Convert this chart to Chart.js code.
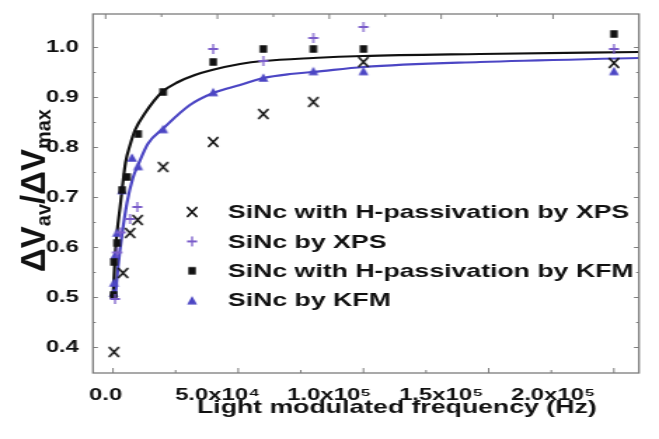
<!DOCTYPE html>
<html>
<head>
<meta charset="utf-8">
<script src="https://cdn.jsdelivr.net/npm/chart.js@4/dist/chart.umd.min.js"></script>
<style>
  html, body { margin: 0; padding: 0; background: #fff; overflow: hidden; }
  #plot { display: block; width: 659px; height: 439px; }
</style>
</head>
<body>
<canvas id="plot" width="470" height="439" style="width:659px;height:439px"></canvas>
<script>
// Frequencies in Hz, normalised amplitude ΔVav/ΔVmax
const freqXpsH  = [400, 4000, 6800, 9850, 20000, 40000, 60000, 80000, 100000, 200000];
const ratioXpsH = [0.391, 0.549, 0.629, 0.655, 0.761, 0.811, 0.867, 0.891, 0.971, 0.969];

const freqXps  = [800, 1600, 3000, 6800, 9700, 40000, 60000, 80000, 100000, 200000];
const ratioXps = [0.497, 0.59, 0.63, 0.657, 0.681, 0.997, 0.973, 1.019, 1.041, 0.997];

const freqKfmH  = [200, 400, 1600, 3600, 5600, 10000, 20000, 40000, 60000, 80000, 100000, 200000];
const ratioKfmH = [0.505, 0.571, 0.609, 0.715, 0.741, 0.827, 0.911, 0.971, 0.997, 0.997, 0.997, 1.027];

const freqKfm  = [200, 400, 800, 1600, 3600, 7600, 10000, 20000, 40000, 60000, 80000, 100000, 200000];
const ratioKfm = [0.51, 0.53, 0.585, 0.63, 0.715, 0.78, 0.763, 0.837, 0.911, 0.94, 0.953, 0.953, 0.953];

// Fitted response curves
const fitFreqKfmH  = [0, 800, 1600, 2800, 3600, 5000, 6800, 8800, 12800, 19600, 26000, 32700, 39500, 50700, 59900, 79800, 99800, 146500, 210000];
const fitRatioKfmH = [0.50, 0.58, 0.63, 0.68, 0.715, 0.77, 0.805, 0.835, 0.869, 0.911, 0.931, 0.945, 0.955, 0.967, 0.973, 0.979, 0.983, 0.987, 0.991];

const fitFreqKfm  = [800, 2000, 3500, 5600, 8000, 10000, 14000, 20000, 30700, 40000, 50700, 60000, 70700, 80000, 100000, 146500, 210000];
const fitRatioKfm = [0.495, 0.56, 0.622, 0.69, 0.74, 0.765, 0.808, 0.838, 0.885, 0.909, 0.925, 0.939, 0.947, 0.951, 0.961, 0.971, 0.979];

// Axis ticks
const xTickValues = [0, 50000, 100000, 150000, 200000];
const xTickLabels = ['0.0', '5.0x10\u2074', '1.0x10\u2075', '1.5x10\u2075', '2.0x10\u2075'];
const yTickValues = [0.4, 0.5, 0.6, 0.7, 0.8, 0.9, 1.0];
const yTickLabels = ['0.4', '0.5', '0.6', '0.7', '0.8', '0.9', '1.0'];

const seriesNames = [
  'SiNc with H-passivation by XPS',
  'SiNc by XPS',
  'SiNc with H-passivation by KFM',
  'SiNc by KFM'
];

const FONT = "'Liberation Sans', Arial, Helvetica, sans-serif";
const INK = '#111111';
const BLUE = '#4c46c4';
const VIOLET = '#7a5cca';
const FRAME = '#7c7c7c';

// the canvas is laid out narrower and displayed wider
const SX = 659 / 470;

function marker(kind, color, w, h, lw) {
  const c = document.createElement('canvas');
  c.width = Math.ceil((w + lw * 2) / SX) + 2;
  c.height = Math.ceil(h + lw * 2) + 2;
  const g = c.getContext('2d');
  g.translate(c.width / 2, c.height / 2);
  g.scale(1 / SX, 1);
  g.strokeStyle = color;
  g.fillStyle = color;
  g.lineWidth = lw;
  const hw = w / 2, hh = h / 2;
  g.beginPath();
  if (kind === 'cross') {
    g.moveTo(-hw, -hh); g.lineTo(hw, hh);
    g.moveTo(hw, -hh); g.lineTo(-hw, hh);
    g.stroke();
  } else if (kind === 'plus') {
    g.moveTo(-hw, 0); g.lineTo(hw, 0);
    g.moveTo(0, -hh); g.lineTo(0, hh);
    g.stroke();
  } else if (kind === 'square') {
    g.fillRect(-hw, -hh, w, h);
  } else {
    g.moveTo(0, -hh); g.lineTo(hw, hh); g.lineTo(-hw, hh); g.closePath();
    g.fill();
  }
  return c;
}

const markCross = marker('cross', INK, 10, 10, 1.9);
const markPlus = marker('plus', VIOLET, 10, 10, 1.8);
const markSquare = marker('square', INK, 7.5, 7.5, 0);
const markTri = marker('triangle', BLUE, 10, 8.5, 0);

function pts(xs, ys) { return xs.map((x, i) => ({ x: x, y: ys[i] })); }

const legendMarks = [markCross, markPlus, markSquare, markTri];

const insetLegend = {
  id: 'insetLegend',
  afterDatasetsDraw(chart) {
    const { ctx, chartArea } = chart;
    ctx.save();
    ctx.font = 'bold 19px ' + FONT;
    ctx.fillStyle = INK;
    ctx.textAlign = 'left';
    ctx.textBaseline = 'middle';
    seriesNames.forEach((name, i) => {
      const y = chartArea.top + 198 + i * 29.4;
      const m = legendMarks[i];
      ctx.drawImage(m, chartArea.left + 70.7 - m.width / 2, y - m.height / 2);
      ctx.fillText(name, chartArea.left + 96.3, y + 1);
    });
    ctx.restore();
  }
};

const frameAndTitles = {
  id: 'frameAndTitles',
  afterDatasetsDraw(chart) {
    const { ctx, chartArea: a, scales } = chart;
    const x = scales.x, xl = scales.xl, y = scales.y;
    ctx.save();
    ctx.strokeStyle = FRAME;
    ctx.lineWidth = 1.3;
    ctx.strokeRect(a.left, a.top, a.right - a.left, a.bottom - a.top);
    ctx.lineWidth = 1;
    ctx.beginPath();
    // bottom ticks
    for (let v = 0; v <= 200000; v += 25000) {
      const px = x.getPixelForValue(v);
      ctx.moveTo(px, a.bottom);
      ctx.lineTo(px, a.bottom - (v % 50000 === 0 ? 5 : 3));
    }
    // top ticks
    for (let v = 0; v <= 200000; v += 25000) {
      const px = xl.getPixelForValue(v);
      ctx.moveTo(px, a.top);
      ctx.lineTo(px, a.top + (v % 50000 === 0 ? 5 : 3));
    }
    // left / right ticks
    for (let k = 0; k <= 12; k++) {
      const v = 0.4 + k * 0.05;
      const py = y.getPixelForValue(v);
      const len = (k % 2 === 0) ? 3.5 : 2;
      ctx.moveTo(a.left, py); ctx.lineTo(a.left + len, py);
      ctx.moveTo(a.right, py); ctx.lineTo(a.right - len, py);
    }
    ctx.stroke();

    // x-axis title
    ctx.fillStyle = INK;
    ctx.font = 'bold 19px ' + FONT;
    ctx.textAlign = 'center';
    ctx.textBaseline = 'middle';
    ctx.fillText('Light modulated frequency (Hz)', (a.left + a.right) / 2 + 22, a.bottom + 35);

    // y-axis title with subscripts, rotated
    ctx.translate(a.left - 34.2, (a.top + a.bottom) / 2 - 3);
    ctx.rotate(-Math.PI / 2);
    ctx.scale(1, 1 / SX);
    const big = 'bold 33px ' + FONT;
    const small = 'bold 20px ' + FONT;
    const parts = [
      { t: '\u0394V', f: big, dy: 0 },
      { t: 'av', f: small, dy: 6 },
      { t: '/\u0394V', f: big, dy: 0 },
      { t: 'max', f: small, dy: 6 }
    ];
    let total = 0;
    parts.forEach(p => { ctx.font = p.f; p.w = ctx.measureText(p.t).width; total += p.w; });
    ctx.textAlign = 'left';
    ctx.textBaseline = 'alphabetic';
    let cx = -total / 2;
    parts.forEach(p => { ctx.font = p.f; ctx.fillText(p.t, cx, p.dy); cx += p.w; });
    ctx.restore();
  }
};

new Chart(document.getElementById('plot'), {
  type: 'scatter',
  data: {
    datasets: [
      { label: seriesNames[0], data: pts(freqXpsH, ratioXpsH), pointStyle: markCross, pointRadius: 4 },
      { label: seriesNames[1], data: pts(freqXps, ratioXps), pointStyle: markPlus, pointRadius: 4 },
      { label: seriesNames[2], data: pts(freqKfmH, ratioKfmH), pointStyle: markSquare, pointRadius: 4 },
      { label: seriesNames[3], data: pts(freqKfm, ratioKfm), pointStyle: markTri, pointRadius: 4 },
      { label: 'fit KFM H', data: pts(fitFreqKfmH, fitRatioKfmH), showLine: true, pointRadius: 0,
        borderColor: INK, borderWidth: 2.2, cubicInterpolationMode: 'monotone', order: 10 },
      { label: 'fit KFM', data: pts(fitFreqKfm, fitRatioKfm), showLine: true, pointRadius: 0,
        borderColor: BLUE, borderWidth: 2.2, cubicInterpolationMode: 'monotone', order: 10 }
    ]
  },
  options: {
    responsive: false,
    animation: false,
    devicePixelRatio: 1,
    layout: { padding: { left: 0, top: 14, right: 14.3, bottom: 36.8 } },
    plugins: { legend: { display: false }, tooltip: { enabled: false } },
    scales: {
      x: {
        type: 'linear', display: false, min: -8000, max: 210000
      },
      xl: {
        type: 'linear', position: 'bottom', min: -5640, max: 238400,
        grid: { display: false, drawTicks: true, tickLength: 12 }, border: { display: false },
        afterFit: s => { s.height = 29.2; },
        afterBuildTicks: s => { s.ticks = xTickValues.map(v => ({ value: v })); },
        ticks: {
          autoSkip: false, maxRotation: 0, padding: 0,
          color: INK, font: { family: FONT, size: 17, weight: 'bold' },
          callback: (v, i) => xTickLabels[i]
        }
      },
      y: {
        type: 'linear', min: 0.349, max: 1.067,
        grid: { display: false, drawTicks: true, tickLength: 10 }, border: { display: false },
        afterFit: s => { s.width = 66.3; },
        afterBuildTicks: s => { s.ticks = yTickValues.map(v => ({ value: v })); },
        ticks: {
          autoSkip: false, padding: 0,
          color: INK, font: { family: FONT, size: 17, weight: 'bold' },
          callback: (v, i) => yTickLabels[i]
        }
      }
    }
  },
  plugins: [frameAndTitles, insetLegend]
});
</script>
</body>
</html>
